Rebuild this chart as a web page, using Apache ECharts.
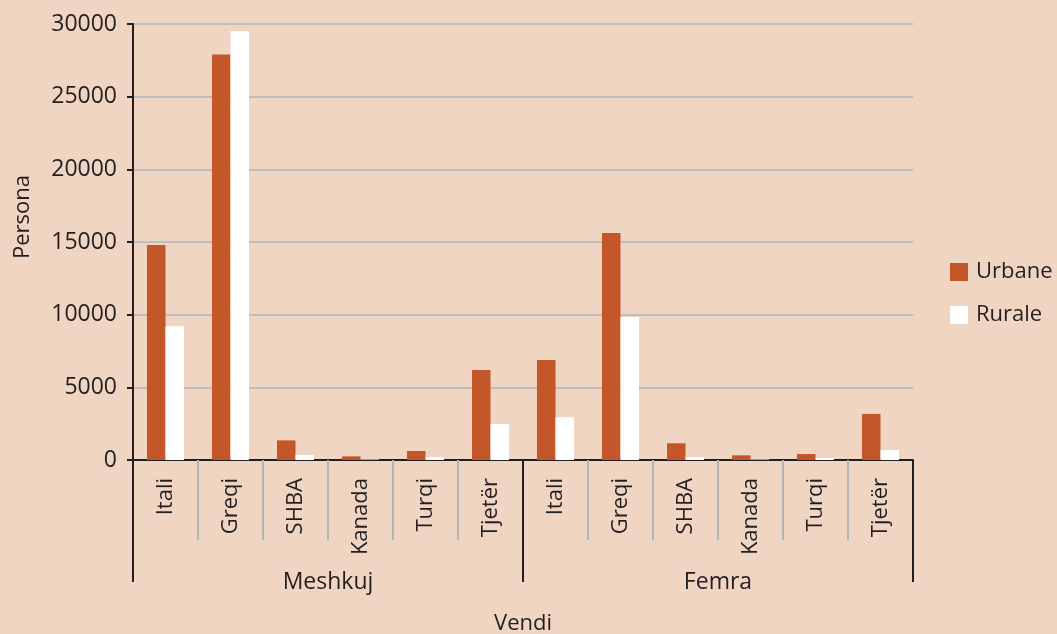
<!DOCTYPE html>
<html>
<head>
<meta charset="utf-8">
<script src="https://cdn.jsdelivr.net/npm/echarts@6/dist/echarts.min.js"></script>
<style>
html,body{margin:0;padding:0;background:#f1d5c3;}
#c{width:1057px;height:634px;}
</style>
</head>
<body>
<div id="c"></div>
<script>
const countries = ['Itali','Greqi','SHBA','Kanada','Turqi','Tjetër'];
const groups = ['Meshkuj','Femra'];
const urbaneMeshkuj = [14800, 27900, 1350, 250, 620, 6200];
const ruraleMeshkuj = [9200, 29500, 350, 40, 200, 2480];
const urbaneFemra = [6880, 15620, 1150, 320, 410, 3170];
const ruraleFemra = [2940, 9840, 200, 40, 130, 690];
const yTicks = [0, 5000, 10000, 15000, 20000, 25000, 30000];
const yTitle = 'Persona';
const xTitle = 'Vendi';

const categories = groups.flatMap(() => countries);
const urbane = urbaneMeshkuj.concat(urbaneFemra);
const rurale = ruraleMeshkuj.concat(ruraleFemra);

const FONT = 'Open Sans';
const FS = 23;
const TXT = '#231f20';
const chart = echarts.init(document.getElementById('c'));
chart.setOption({
  backgroundColor: '#f1d5c3',
  animation: false,
  textStyle: {fontFamily: FONT, color: TXT},
  grid: {left: 133, right: 144, top: 24, bottom: 174, containLabel: false, outerBoundsMode: 'none'},
  legend: {
    orient: 'vertical', left: 945, top: 256,
    itemWidth: 18, itemHeight: 18, itemGap: 21,
    icon: 'rect',
    textStyle: {fontFamily: FONT, fontSize: FS - 1, color: TXT, padding: [0,0,0,3]},
    data: ['Urbane','Rurale']
  },
  graphic: [
    {type: 'text', left: 12, top: 175, rotation: Math.PI / 2,
     style: {text: yTitle, font: FS - 1 + 'px "' + FONT + '"', fill: TXT}}
  ],
  xAxis: [
    {
      type: 'category', data: categories, position: 'bottom',
      axisLine: {show: true, lineStyle: {color: TXT, width: 2}},
      axisTick: {show: true, length: 80, lineStyle: {color: '#b5b5b5', width: 2}},
      axisLabel: {rotate: 90, margin: 18, fontSize: FS - 1, fontFamily: FONT, color: TXT, interval: 0},
      splitLine: {show: false}
    },
    {
      type: 'category', data: groups, position: 'bottom',
      axisLine: {show: false},
      axisTick: {show: true, length: 122, lineStyle: {color: TXT, width: 2}},
      axisLabel: {margin: 111, fontSize: FS, fontFamily: FONT, color: TXT},
      name: xTitle, nameLocation: 'middle', nameGap: 153,
      nameTextStyle: {fontSize: FS - 1, fontFamily: FONT, color: TXT}
    }
  ],
  yAxis: {
    type: 'value', min: 0, max: 30000, interval: 5000,
    axisLine: {show: true, lineStyle: {color: TXT, width: 2}},
    axisTick: {show: true, length: 6, lineStyle: {color: TXT, width: 2}},
    axisLabel: {margin: 16, fontSize: FS, fontFamily: FONT, color: TXT,
      formatter: v => yTicks.includes(v) ? String(v) : ''},
    splitLine: {show: true, lineStyle: {color: '#bdbdbd', width: 2}}
  },
  series: [
    {name: 'Urbane', type: 'bar', xAxisIndex: 0, data: urbane,
     itemStyle: {color: '#c4572a'}, barGap: '0%', barCategoryGap: '43%'},
    {name: 'Rurale', type: 'bar', xAxisIndex: 0, data: rurale,
     itemStyle: {color: '#ffffff'}, barGap: '0%', barCategoryGap: '43%'}
  ]
});
</script>
</body>
</html>
